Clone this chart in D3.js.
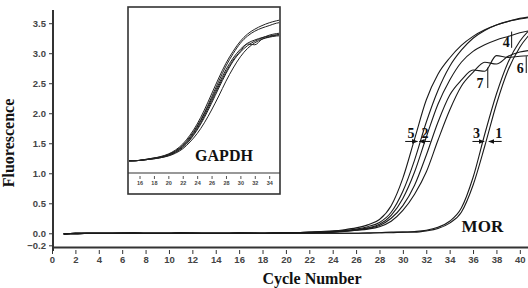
<!DOCTYPE html>
<html>
<head>
<meta charset="utf-8">
<script src="https://cdn.jsdelivr.net/npm/d3@7"></script>
<style>
  body { margin: 0; background: #fff; }
  svg { display: block; }
  .tick text { font-family: Arial, "Liberation Sans", sans-serif; font-weight: bold; fill: #444; }
  .serif { font-family: "Liberation Serif", "Times New Roman", serif; font-weight: bold; fill: #111; }
</style>
</head>
<body>
<svg id="chart"></svg>
<script>
const w = 528;
const h = 288;

// MOR amplification curves, cycles 1..41
const cycles = [1,2,3,4,5,6,7,8,9,10,11,12,13,14,15,16,17,18,19,20,21,22,23,24,25,26,27,28,29,30,31,32,33,34,35,36,37,38,39,40,41];
const mor5 = [-0.01,-0.01,0,0,0,0.01,0.01,0,0,0,0.01,0.01,0,0,0,0.01,0.01,0,0.01,0.01,0.01,0.02,0.03,0.04,0.06,0.09,0.14,0.23,0.46,0.92,1.57,2.22,2.65,2.92,3.13,3.28,3.39,3.47,3.53,3.58,3.61];
const mor2 = [-0.01,-0.01,0,0,0,0,0.01,0,0,0,0.01,0,0,0,0,0.01,0,0,0.01,0.01,0.01,0.02,0.02,0.03,0.05,0.07,0.11,0.18,0.35,0.7,1.22,1.85,2.38,2.78,3.05,3.25,3.38,3.47,3.53,3.57,3.6];
const mor4 = [-0.01,0,0,0,0,0,0,0,0,0,0.01,0,0,0,0,0,0,0,0,0.01,0.01,0.01,0.02,0.03,0.04,0.06,0.09,0.15,0.3,0.58,1.02,1.6,2.15,2.55,2.85,3.03,3.14,3.22,3.28,3.34,3.38];
const mor7 = [-0.01,0,0,0,0,0,0,0,0,0,0,0,0,0,0,0,0,0,0,0.01,0.01,0.01,0.02,0.02,0.04,0.05,0.08,0.13,0.25,0.46,0.8,1.3,1.85,2.3,2.55,2.72,2.7,2.96,2.93,2.95,2.96];
const mor6 = [-0.01,0,0,0,0,0,0,0,0,0,0,0,0,0,0,0,0,0,0,0,0.01,0.01,0.01,0.02,0.03,0.05,0.07,0.11,0.2,0.38,0.65,1.02,1.55,2.05,2.45,2.68,2.85,2.82,2.95,3.02,3.05];
const mor3 = [-0.01,0,0,0,0,0,0,0,0,0,0,0,0,0,0,0,0,0,0,0,0,0,0,0,0,0,0.01,0.01,0.02,0.02,0.03,0.05,0.1,0.2,0.42,0.93,1.65,2.32,2.85,3.2,3.42];
const mor1 = [-0.01,0,0,0,0,0,0,0,0,0,0,0,0,0,0,0,0,0,0,0,0,0,0,0,0,0,0,0.01,0.01,0.02,0.02,0.04,0.08,0.17,0.35,0.8,1.45,2.15,2.72,3.1,3.35];

// GAPDH curves (inset), cycles 14..36
const gapdhCycles = [14,15,16,17,18,19,20,21,22,23,24,25,26,27,28,29,30,31,32,33,34,35,36];
const gapdh1 = [-0.02,-0.02,-0.01,0.02,0.05,0.09,0.15,0.25,0.4,0.62,0.9,1.25,1.65,2.05,2.42,2.72,2.97,3.15,3.27,3.36,3.43,3.48,3.52];
const gapdh2 = [-0.02,-0.02,-0.01,0.02,0.05,0.08,0.14,0.23,0.37,0.58,0.85,1.18,1.57,1.97,2.35,2.66,2.92,3.1,3.22,3.3,3.36,3.42,3.45];
const gapdh3 = [-0.02,-0.02,-0.01,0.01,0.04,0.07,0.13,0.22,0.35,0.55,0.82,1.15,1.52,1.9,2.26,2.55,2.77,2.92,3.0,3.06,3.1,3.13,3.15];
const gapdh4 = [-0.02,-0.02,-0.01,0.01,0.04,0.07,0.12,0.2,0.33,0.52,0.78,1.1,1.47,1.85,2.2,2.5,2.72,2.9,2.88,3.02,3.08,3.12,3.14];
const gapdh5 = [-0.02,-0.02,-0.01,0.01,0.03,0.06,0.11,0.19,0.31,0.5,0.75,1.06,1.42,1.8,2.16,2.47,2.7,2.86,2.97,3.05,3.12,3.16,3.18];
const gapdh6 = [-0.02,-0.02,-0.01,0.01,0.03,0.06,0.1,0.17,0.28,0.45,0.66,0.93,1.25,1.6,1.97,2.3,2.58,2.79,2.93,3.02,3.07,3.1,3.11];

const yTicks = [-0.2, 0, 0.5, 1, 1.5, 2, 2.5, 3, 3.5];
const xTicks = [0,2,4,6,8,10,12,14,16,18,20,22,24,26,28,30,32,34,36,38,40];
const insetTicks = [16,18,20,22,24,26,28,30,32,34];

const morSeries = [mor5, mor2, mor4, mor7, mor6, mor3, mor1];
const gapdhSeries = [gapdh1, gapdh2, gapdh3, gapdh4, gapdh5, gapdh6];

const svg = d3.select('#chart').attr('width', w).attr('height', h);

const x = d3.scaleLinear().domain([0, 40.7]).range([52, 528]);
const y = d3.scaleLinear().domain([-0.22, 3.72]).range([246.5, 10]);

const defs = svg.append('defs');
defs.append('clipPath').attr('id', 'plotClip')
  .append('rect').attr('x', 54).attr('y', 0).attr('width', w - 54).attr('height', 246);
defs.append('marker')
  .attr('id', 'arrow')
  .attr('viewBox', '0 0 10 10')
  .attr('refX', 9).attr('refY', 5)
  .attr('markerWidth', 6).attr('markerHeight', 6)
  .attr('orient', 'auto')
  .append('path').attr('d', 'M0,1 L10,5 L0,9 Z').attr('fill', '#111');

////// MAIN CURVES //////
const line = d3.line()
  .x((d, i) => x(cycles[i]))
  .y((d) => y(d))
  .curve(d3.curveMonotoneX);

svg.append('g').attr('clip-path', 'url(#plotClip)')
  .selectAll('path')
  .data(morSeries)
  .enter()
  .append('path')
  .attr('d', line)
  .attr('fill', 'none')
  .attr('stroke', '#1a1a1a')
  .attr('stroke-width', 1.1);

////// AXES //////
const yAxis = svg.append('g')
  .attr('transform', 'translate(53,0)')
  .call(d3.axisLeft(y).tickValues(yTicks).tickSize(4).tickSizeOuter(0).tickFormat(d3.format('.1f')));
yAxis.select('.domain').remove();
yAxis.selectAll('.tick text').attr('font-size', 9.5).attr('x', -7);
yAxis.selectAll('.tick line').attr('stroke', '#333');

svg.append('line')
  .attr('x1', 53).attr('x2', 53).attr('y1', 10).attr('y2', 251)
  .attr('stroke', '#333').attr('stroke-width', 2);

const xAxis = svg.append('g')
  .attr('transform', 'translate(0,247)')
  .call(d3.axisBottom(x).tickValues(xTicks).tickSize(7).tickSizeOuter(0));
xAxis.select('.domain').attr('stroke', '#333').attr('stroke-width', 2);
xAxis.selectAll('.tick line').attr('stroke', '#333').attr('y1', 3);
xAxis.selectAll('.tick text').attr('font-size', 9.5).attr('y', 9);

svg.append('text')
  .attr('class', 'serif')
  .attr('transform', 'translate(14,143) rotate(-90)')
  .attr('text-anchor', 'middle')
  .attr('font-size', 16)
  .text('Fluorescence');

svg.append('text')
  .attr('class', 'serif')
  .attr('x', 312).attr('y', 284)
  .attr('text-anchor', 'middle')
  .attr('font-size', 16)
  .text('Cycle Number');

svg.append('text')
  .attr('class', 'serif')
  .attr('x', x(36.8)).attr('y', y(0.02))
  .attr('text-anchor', 'middle')
  .attr('font-size', 17)
  .text('MOR');

////// CURVE LABELS //////
const labels = [
  { t: '5', c: 30.7, v: 1.59 },
  { t: '2', c: 31.9, v: 1.59 },
  { t: '3', c: 36.3, v: 1.59 },
  { t: '1', c: 38.2, v: 1.59 },
  { t: '4', c: 38.85, v: 3.1 },
  { t: '7', c: 36.6, v: 2.42 },
  { t: '6', c: 40.04, v: 2.67 },
];
svg.append('g').selectAll('text')
  .data(labels)
  .enter()
  .append('text')
  .attr('class', 'serif')
  .attr('x', (d) => x(d.c)).attr('y', (d) => y(d.v))
  .attr('text-anchor', 'middle')
  .attr('font-size', 14)
  .text((d) => d.t);

const arrows = [
  { c1: 30.2, c2: 31.25 },
  { c1: 32.35, c2: 31.4 },
  { c1: 35.95, c2: 36.95 },
  { c1: 38.45, c2: 37.35 },
];
svg.append('g').selectAll('line')
  .data(arrows)
  .enter()
  .append('line')
  .attr('x1', (d) => x(d.c1)).attr('x2', (d) => x(d.c2))
  .attr('y1', y(1.53)).attr('y2', y(1.53))
  .attr('stroke', '#111').attr('stroke-width', 1)
  .attr('marker-end', 'url(#arrow)');

const pointers = [
  { c: 39.3, v1: 3.09, v2: 3.36 },
  { c: 37.26, v1: 2.42, v2: 2.76 },
  { c: 40.55, v1: 2.67, v2: 2.95 },
];
svg.append('g').selectAll('line')
  .data(pointers)
  .enter()
  .append('line')
  .attr('x1', (d) => x(d.c)).attr('x2', (d) => x(d.c))
  .attr('y1', (d) => y(d.v1)).attr('y2', (d) => y(d.v2))
  .attr('stroke', '#111').attr('stroke-width', 1);

////// INSET //////
const ix = d3.scaleLinear().domain([14.4, 35.5]).range([128, 280]);
const iy = d3.scaleLinear().domain([-0.325, 3.825]).range([173, 7]);

const inset = svg.append('g');
inset.append('rect')
  .attr('x', 128).attr('y', 7).attr('width', 152).attr('height', 187)
  .attr('fill', '#fff').attr('stroke', '#333').attr('stroke-width', 1.6);

defs.append('clipPath').attr('id', 'insetClip')
  .append('rect').attr('x', 129).attr('y', 8).attr('width', 150).attr('height', 165);

const insetLine = d3.line()
  .x((d, i) => ix(gapdhCycles[i]))
  .y((d) => iy(d))
  .curve(d3.curveMonotoneX);

inset.append('g').attr('clip-path', 'url(#insetClip)')
  .selectAll('path')
  .data(gapdhSeries)
  .enter()
  .append('path')
  .attr('d', insetLine)
  .attr('fill', 'none')
  .attr('stroke', '#222')
  .attr('stroke-width', 1);

inset.append('line')
  .attr('x1', 128).attr('x2', 280).attr('y1', 173).attr('y2', 173)
  .attr('stroke', '#333').attr('stroke-width', 1.2);

const insetAxis = inset.append('g')
  .attr('transform', 'translate(0,176)')
  .call(d3.axisBottom(ix).tickValues(insetTicks).tickSize(3).tickSizeOuter(0));
insetAxis.select('.domain').remove();
insetAxis.selectAll('.tick line').attr('stroke', '#555');
insetAxis.selectAll('.tick text').attr('font-size', 5.5).attr('y', 5);

inset.append('text')
  .attr('class', 'serif')
  .attr('x', 224).attr('y', 161)
  .attr('text-anchor', 'middle')
  .attr('font-size', 16)
  .text('GAPDH');
</script>
</body>
</html>
